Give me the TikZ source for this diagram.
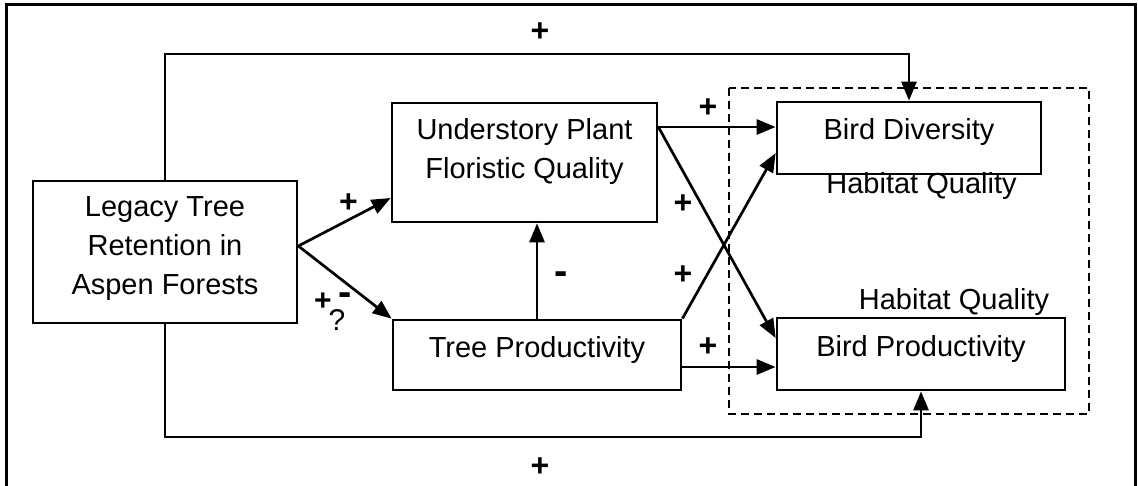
\documentclass[tikz,border=0pt]{standalone}
\usepackage{fontspec}
\setmainfont{Liberation Sans}
\usetikzlibrary{arrows.meta,calc}
\newcommand\mlines[1]{\begin{tabular}[t]{@{}c@{}}#1\end{tabular}}
\begin{document}
\begin{tikzpicture}[x=1pt,y=-1pt,
  box/.style={draw, line width=2.7pt, rectangle, inner sep=0pt,
              font=\fontsize{29}{38.5}\selectfont},
  arr/.style={line width=2.7pt, -{Triangle[length=19pt,width=15pt]}},
  pl/.style={font=\bfseries\fontsize{32}{32}\selectfont, inner sep=0pt},
  plsmall/.style={font=\bfseries\fontsize{30}{30}\selectfont, inner sep=0pt},
  mn/.style={font=\bfseries\fontsize{40}{40}\selectfont, inner sep=0pt},
  lab/.style={font=\fontsize{29}{29}\selectfont, inner sep=0pt, anchor=base},
  qm/.style={font=\fontsize{30}{30}\selectfont, inner sep=0pt},
  dashbox/.style={line width=2pt, dash pattern=on 8pt off 5pt},
]
\useasboundingbox (0,0) rectangle (1138,486);
% outer frame
\draw[line width=3.5pt] (6.5,490) -- (6.5,4.5) -- (1135.5,4.5) -- (1135.5,490);
% dashed group
\draw[dashbox] (729,88) rectangle (1089,414);
% boxes
\node[box, minimum width=264pt, minimum height=142pt, text height=0pt, text depth=70pt] (leg) at (165,252)
  {\fontsize{29}{39}\selectfont\mlines{Legacy Tree\\Retention in\\Aspen Forests}};
\node[box, minimum width=265pt, minimum height=119pt, text height=0pt, text depth=45pt] (und) at (524.5,162.5)
  {\mlines{Understory Plant\\Floristic Quality}};
\node[box, minimum width=288pt, minimum height=70pt, text height=4pt, text depth=0pt] (tp) at (537,355)
  {Tree Productivity};
\node[box, minimum width=264pt, minimum height=72pt, text height=4pt, text depth=0pt] (bd) at (909,138)
  {Bird Diversity};
\node[box, minimum width=288pt, minimum height=72pt, text height=4pt, text depth=0pt] (bp) at (921,354)
  {Bird Productivity};
\node[lab] (hq1) at (921.5,194) {Habitat Quality};
\node[lab] (hq2) at (954,310) {Habitat Quality};
% connectors
\coordinate (apex) at ($(leg.east)+(0,-6)$);
\draw[arr] (apex) -- ($(und.west)+(0,35.5)$);
\draw[arr] (apex) -- (tp.north west);
\draw[arr] (tp.north) -- (tp.north |- und.south);
\coordinate (uo) at ($(und.east)+(0,-35.5)$);
\draw[arr] (uo) -- (bd.west |- uo);
\draw[arr] (uo) -- ($(bp.west)+(0,-16)$);
\draw[arr] (tp.north east) -- ($(bd.west)+(0,15)$);
\draw[arr] ($(tp.east)+(0,12)$) -- ($(bp.west)+(0,13)$);
\coordinate (topy) at (0,54);
\coordinate (boty) at (0,437);
\draw[arr] (leg.north) |- (topy -| bd.north) -- (bd.north);
\draw[arr] (leg.south) |- (boty -| bp.south) -- (bp.south);
% signs
\node[pl] (p1) at (540,32) {+};
\node[pl] (p2) at (540,467) {+};
\node[pl] (p3) at (348.5,203) {+};
\node[plsmall] (p4) at (323,302) {+};
\node[mn] (m1) at (345,299) {-};
\node[qm] (q1) at (337,320) {?};
\node[mn] (m2) at (561,278) {-};
\node[pl] (p5) at (708,108) {+};
\node[pl] (p6) at (683,204) {+};
\node[pl] (p7) at (683,275) {+};
\node[pl] (p8) at (708,347) {+};
\end{tikzpicture}
\end{document}
